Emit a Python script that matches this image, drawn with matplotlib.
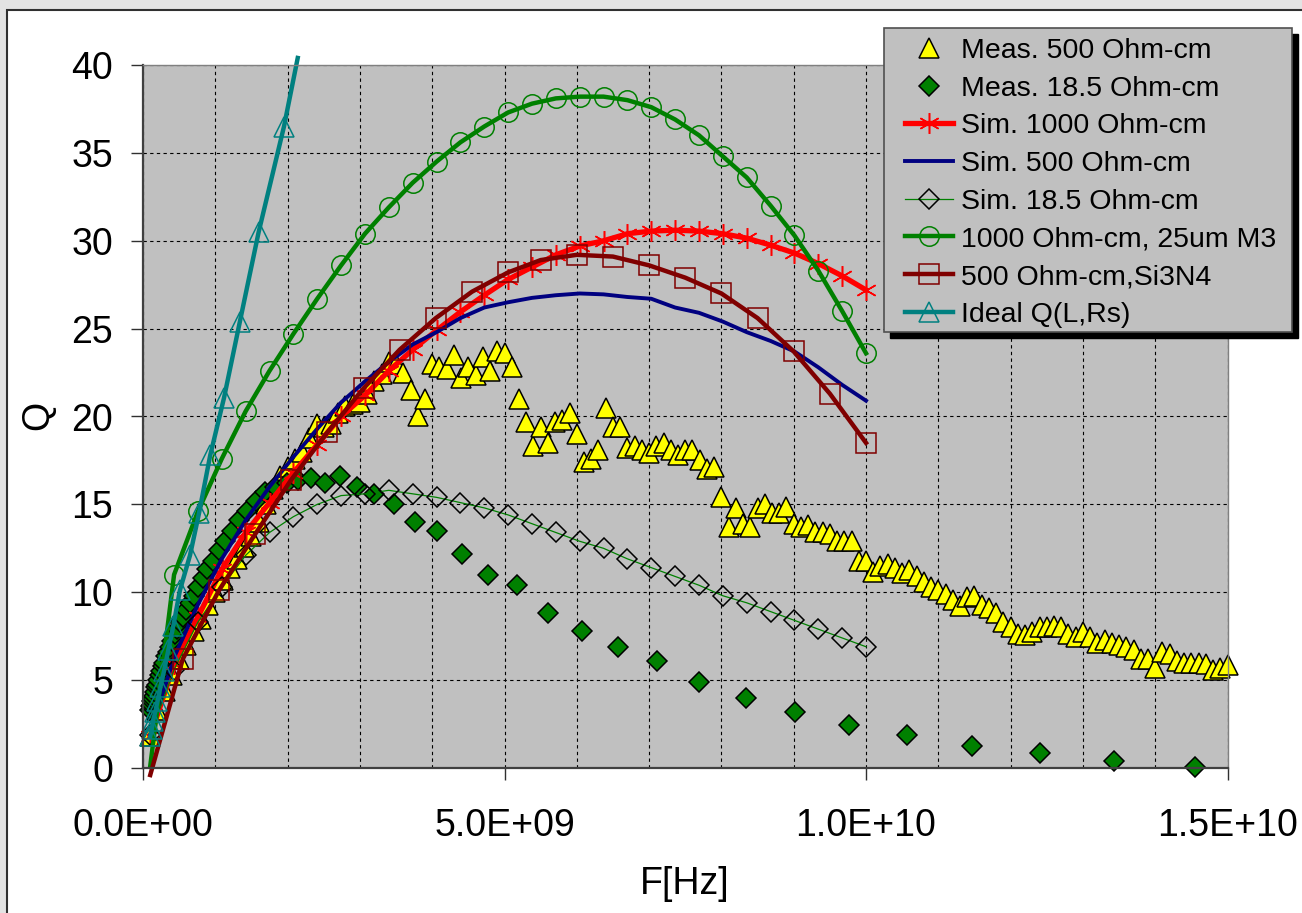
import numpy as np
import matplotlib
matplotlib.use('Agg')
import matplotlib.pyplot as plt
from matplotlib.lines import Line2D
from matplotlib.patches import Rectangle
from matplotlib.ticker import MultipleLocator, FuncFormatter

plt.rcParams['font.family'] = ['Liberation Sans', 'DejaVu Sans']

# --- data (frequencies in GHz, converted to Hz when plotted) ---
# measured, 500 Ohm-cm: 0.1 GHz sweep step from 0.1 to 15 GHz
f_meas500 = np.round(np.arange(1, 151) * 0.1, 1)
q_meas500 = [
    1.8, 3.3, 4.4, 5.3, 6.2, 7.0, 7.8, 8.5, 9.3, 10.0,
    10.7, 11.4, 11.9, 12.6, 13.2, 14.0, 15.0, 15.9, 16.6, 17.1,
    17.6, 18.0, 18.8, 19.6, 19.4, 19.6, 20.2, 20.6, 20.7, 20.8,
    21.3, 22.0, 22.4, 23.1, 23.0, 22.5, 21.5, 20.0, 21.0, 23.0,
    22.8, 22.7, 23.5, 22.2, 22.8, 22.35, 23.4, 22.6, 23.7, 23.6,
    22.8, 21.0, 19.7, 18.3, 19.4, 18.5, 19.7, 19.8, 20.2, 19.0,
    17.4, 17.6, 18.1, 20.5, 19.4, 19.4, 18.2, 18.3, 18.1, 17.9,
    18.3, 18.5, 18.1, 17.8, 18.1, 18.1, 17.5, 17.0, 17.1, 15.4,
    13.7, 14.8, 13.9, 13.7, 14.8, 15.0, 14.5, 14.5, 14.85, 13.9,
    13.7, 13.8, 13.4, 13.4, 13.3, 12.9, 12.9, 12.9, 11.8, 11.8,
    11.15, 11.5, 11.6, 11.4, 11.1, 11.25, 10.9, 10.6, 10.3, 10.1,
    9.9, 9.55, 9.2, 9.75, 9.8, 9.3, 9.1, 8.8, 8.3, 8.0,
    7.65, 7.55, 7.75, 8.0, 8.0, 8.1, 8.0, 7.65, 7.45, 7.75,
    7.45, 7.1, 7.3, 7.1, 7.0, 6.9, 6.7, 6.2, 6.2, 5.7,
    6.6, 6.5, 6.1, 6.0, 6.0, 6.0, 5.9, 5.6, 5.7, 5.85,
]

# measured, 18.5 Ohm-cm
f_meas18 = [
    0.10, 0.11, 0.12, 0.13, 0.14, 0.15, 0.16, 0.18, 0.19, 0.21,
    0.23, 0.25, 0.27, 0.29, 0.32, 0.34, 0.37, 0.40, 0.44, 0.47,
    0.51, 0.55, 0.60, 0.65, 0.70, 0.76, 0.83, 0.89, 0.97, 1.05,
    1.14, 1.23, 1.33, 1.44, 1.56, 1.69, 1.83, 1.99, 2.15, 2.33,
    2.52, 2.73, 2.96, 3.20, 3.47, 3.76, 4.07, 4.41, 4.77, 5.17,
    5.60, 6.07, 6.57, 7.11, 7.69, 8.34, 9.02, 9.76, 10.57, 11.47,
    12.40, 13.43, 14.55,
]
q_meas18 = [
    3.3, 3.5, 3.6, 3.8, 3.9, 4.1, 4.3, 4.6, 4.7, 5.0,
    5.3, 5.5, 5.8, 6.0, 6.4, 6.6, 6.9, 7.2, 7.6, 7.9,
    8.3, 8.6, 9.0, 9.4, 9.8, 10.3, 10.8, 11.3, 11.8, 12.4,
    12.9, 13.5, 14.1, 14.6, 15.2, 15.7, 16.0, 16.2, 16.4, 16.5,
    16.2, 16.6, 16.0, 15.6, 15.0, 14.0, 13.5, 12.2, 11.0, 10.4,
    8.8, 7.8, 6.9, 6.1, 4.9, 4.0, 3.2, 2.45, 1.9, 1.25,
    0.85, 0.4, 0.06,
]

# simulations share one frequency grid
f_sim = [
    0.10, 0.43, 0.76, 1.09, 1.42, 1.75, 2.08, 2.41, 2.74, 3.07,
    3.40, 3.73, 4.06, 4.39, 4.72, 5.05, 5.38, 5.71, 6.04, 6.37,
    6.70, 7.03, 7.36, 7.69, 8.02, 8.35, 8.68, 9.01, 9.34, 9.67, 10.00,
]
q_sim1000 = [
    1.8, 5.9, 8.6, 11.3, 13.4, 15.1, 16.8, 18.4, 20.0, 21.2,
    22.6, 23.8, 24.9, 25.95, 26.9, 27.8, 28.5, 29.2, 29.7, 30.0,
    30.4, 30.55, 30.6, 30.55, 30.4, 30.15, 29.75, 29.3, 28.7, 28.0, 27.2,
]
q_sim500 = [
    1.9, 6.3, 9.3, 11.9, 14.1, 16.0, 17.7, 19.3, 20.8, 22.0,
    23.1, 24.1, 24.8, 25.6, 26.2, 26.5, 26.75, 26.9, 27.0, 26.95,
    26.8, 26.7, 26.2, 25.9, 25.4, 24.8, 24.3, 23.7, 22.8, 21.8, 20.9,
]
q_sim18 = [
    1.9, 5.6, 8.3, 10.3, 12.1, 13.4, 14.3, 15.0, 15.5, 15.6,
    15.8, 15.6, 15.4, 15.1, 14.8, 14.4, 13.9, 13.4, 12.9, 12.5,
    11.9, 11.4, 10.9, 10.4, 9.8, 9.4, 8.9, 8.4, 7.9, 7.4, 6.9,
]
q_m3 = [
    0.1, 11.0, 14.6, 17.6, 20.3, 22.6, 24.7, 26.7, 28.6, 30.4,
    31.9, 33.3, 34.5, 35.6, 36.5, 37.3, 37.8, 38.1, 38.2, 38.2,
    38.0, 37.6, 36.9, 36.0, 34.8, 33.6, 32.0, 30.3, 28.3, 26.0, 23.6,
]

# 500 Ohm-cm with Si3N4
f_si3n4 = [0.10, 0.55, 1.05, 1.55, 2.05, 2.55, 3.05, 3.55, 4.05, 4.55, 5.05,
           5.5, 6.0, 6.5, 7.0, 7.5, 8.0, 8.5, 9.0, 9.5, 10.0]
q_si3n4 = [-0.4, 6.2, 10.1, 13.3, 16.4, 19.1, 21.6, 23.8, 25.6, 27.1, 28.2,
           28.9, 29.2, 29.1, 28.6, 27.9, 27.0, 25.6, 23.7, 21.3, 18.5]

# ideal Q(L,Rs)
f_ideal = [0.10, 0.12, 0.14, 0.17, 0.20, 0.24, 0.29, 0.35, 0.42, 0.51,
           0.65, 0.775, 0.93, 1.12, 1.34, 1.60, 1.95, 2.14]
q_ideal = [1.8, 2.2, 2.7, 3.2, 3.8, 4.6, 5.5, 6.7, 8.1, 10.1,
           12.1, 14.5, 17.8, 21.05, 25.4, 30.5, 36.5, 40.4]

labels = ['Meas. 500 Ohm-cm', 'Meas. 18.5 Ohm-cm', 'Sim. 1000 Ohm-cm',
          'Sim. 500 Ohm-cm', 'Sim. 18.5 Ohm-cm', '1000 Ohm-cm, 25um M3',
          '500 Ohm-cm,Si3N4', 'Ideal Q(L,Rs)']

GHZ = 1e9
W, H = 1302, 913
fig = plt.figure(figsize=(W / 100, H / 100), dpi=100)
fig.patch.set_facecolor('#E3E3E3')
fig.patches.append(Rectangle((7 / W, -0.05), 1.2, 1 - 10 / H + 0.05,
                             transform=fig.transFigure, facecolor='white',
                             edgecolor='#303030', linewidth=1.5, zorder=-1))

ax = fig.add_axes([143 / W, (H - 768) / H, (1227.5 - 143) / W, (768 - 65) / H])
ax.set_facecolor('#C0C0C0')

sty = [
    dict(ls='none', marker='^', mfc='#FFFF00', mec='black', ms=15, mew=1.1),
    dict(ls='none', marker='D', mfc='#008000', mec='black', ms=10.5, mew=1.1),
    dict(color='#FF0000', lw=3.8, marker=(6, 2, 0), mec='#FF0000', ms=15, mew=1.1),
    dict(color='#000080', lw=2.8),
    dict(color='#008000', lw=0.9, marker='D', mfc='none', mec='black', ms=10.5, mew=1.1),
    dict(color='#008000', lw=3.2, marker='o', mfc='none', mec='#008000', ms=14, mew=1.1),
    dict(color='#800000', lw=3.2, marker='s', mfc='none', mec='#800000', ms=14, mew=1.1),
    dict(color='#008080', lw=3.2, marker='^', mfc='none', mec='#008080', ms=15, mew=1.1),
]

series = [
    (f_meas500, q_meas500), (f_meas18, q_meas18), (f_sim, q_sim1000),
    (f_sim, q_sim500), (f_sim, q_sim18), (f_sim, q_m3),
    (f_si3n4, q_si3n4), (f_ideal, q_ideal),
]
for i, ((f, q), st) in enumerate(zip(series, sty)):
    kw = dict(st)
    if i in (5, 6):
        kw['markevery'] = list(range(1, len(f)))
    if i == 7:
        kw['markevery'] = list(range(len(f) - 1))
    ax.plot(np.array(f) * GHZ, q, clip_on=False, **kw)

ax.set_xlim(0, 1.5e10)
ax.set_ylim(0, 40)
ax.xaxis.set_major_locator(MultipleLocator(5e9))
ax.xaxis.set_minor_locator(MultipleLocator(1e9))
ax.yaxis.set_major_locator(MultipleLocator(5))
ax.xaxis.set_major_formatter(FuncFormatter(lambda v, p: f'{v:.1E}'))
ax.grid(which='both', color='black', linestyle=(0, (3, 3)), linewidth=0.8)
ax.set_axisbelow(True)
ax.tick_params(which='major', direction='out', length=8.6, width=1,
               color='#303030', labelsize=27)
ax.tick_params(axis='x', which='major', pad=20)
ax.tick_params(axis='y', which='major', pad=13)
ax.tick_params(which='minor', length=0)
for s in ['left', 'bottom']:
    ax.spines[s].set_color('#404040')
    ax.spines[s].set_linewidth(1.6)
for s in ['top', 'right']:
    ax.spines[s].set_color('#808080')
    ax.spines[s].set_linewidth(1.0)

fig.text(38 / W, 1 - 415 / H, 'Q', fontsize=27, rotation=90, ha='center', va='center')
fig.text(685 / W, 1 - 884 / H, 'F[Hz]', fontsize=27, ha='center', va='center')

# legend box with hard shadow, drawn by hand
lx0, ly0, lx1, ly1 = 884, 28, 1292, 332
fig.patches.append(Rectangle(((lx0 + 6) / W, 1 - (ly1 + 6) / H), (lx1 - lx0) / W,
                             (ly1 - ly0) / H, transform=fig.transFigure,
                             facecolor='black', edgecolor='black', zorder=3))
fig.patches.append(Rectangle((lx0 / W, 1 - ly1 / H), (lx1 - lx0) / W,
                             (ly1 - ly0) / H, transform=fig.transFigure,
                             facecolor='#C0C0C0', edgecolor='#505050',
                             linewidth=1.2, zorder=4))
handles = [Line2D([], [], **st) for st in sty]
leg = fig.legend(handles, labels, loc='upper left',
                 bbox_to_anchor=(905 / W, 1 - 38 / H), bbox_transform=fig.transFigure,
                 fontsize=20.5, frameon=False, borderpad=0, labelspacing=0.41,
                 handlelength=1.68, handletextpad=0.28, borderaxespad=0)
leg.set_zorder(5)

fig.savefig('out.png', dpi=100, facecolor=fig.get_facecolor())
